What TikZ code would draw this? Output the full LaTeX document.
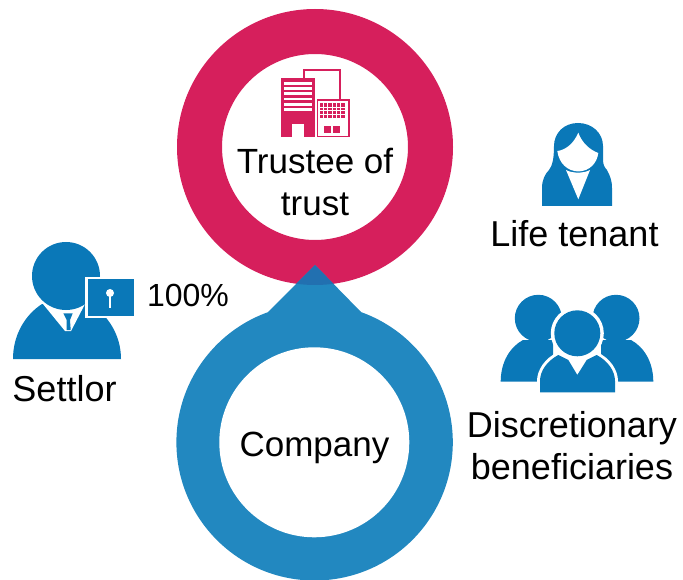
\documentclass[tikz,border=0pt]{standalone}
\usepackage{fontspec}
\setmainfont{Liberation Sans}
\definecolor{ringred}{HTML}{D61F5C}
\definecolor{ringblue}{HTML}{2288C0}
\definecolor{overlapblue}{HTML}{2270B0}
\definecolor{iconblue}{HTML}{0A78B8}
\begin{document}
\begin{tikzpicture}[x=1pt,y=-1pt,
                    label node/.style={font=\fontsize{36}{40}\selectfont,text=black,inner sep=0pt,align=center},
                    thin line/.style={draw=ringred,line width=1.5pt}]
\path[use as bounding box,clip] (0,0) rectangle (683,580);

% rings
\fill[ringred,even odd rule] (315,147) circle (138) (315,147) circle (93);
\fill[ringblue] (314.6,442.3) circle (138.2);
\fill[ringblue] (315,265) -- (361,312) -- (268,312) -- cycle;
\fill[white] (314.3,442.3) circle (95);
\begin{scope}
  \clip (315,147) circle (138);
  \fill[overlapblue] (315,265) -- (361,312) -- (268,312) -- cycle;
\end{scope}

% building
\fill[ringred] (280.7,78.3) rectangle (315,137.3);
\foreach \y in {82.3,87.4,92.5,97.7,102.8,107.9}
  \fill[white] (284.3,\y) rectangle (311.7,\y+2.8);
\fill[white] (292.3,124) rectangle (304,137.3);
\draw[thin line] (304,78.3) -- (304,70) -- (340,70) -- (340,99.3);
\draw[thin line] (317.3,136.7) -- (349,136.7) -- (349,100) -- (317.3,100) -- cycle;
\fill[ringred] (319.5,103.3) rectangle (345,118.3);
\foreach \x in {323.5,327.7,331.9,336.1,340.3}
  \draw[white,line width=.7pt] (\x,103.3) -- (\x,118.3);
\foreach \y in {107,110.8,114.6}
  \draw[white,line width=.7pt] (319.5,\y) -- (345,\y);
\fill[ringred] (324.3,126) rectangle (330.7,133.3);
\fill[ringred] (333.3,126) rectangle (340,133.3);

% settlor
\fill[iconblue] (13,359) .. controls (13,335) and (25,315) .. (42,304) -- (90,304)
  .. controls (108,315) and (121,335) .. (121,359) -- cycle;
\fill[white] (43,304) -- (65,331) -- (71,331) -- (85,304) -- cycle;
\fill[iconblue] (63.3,313.3) -- (72.7,313.3) -- (70,320) -- (70.7,330) -- (66.7,330) -- (66.7,320) -- cycle;
\fill[iconblue] (66,276) circle (34);
\fill[white] (85,277) rectangle (135,318);
\fill[iconblue] (87.5,279.5) rectangle (134,316);
\fill[white] (110,293) circle (4);
\draw[white,line width=2.2pt] (110,293) -- (110,308);

% life tenant
\fill[iconblue] (578,123) .. controls (592,123) and (603,133) .. (603,146)
  -- (603,160) .. controls (603,165) and (605,168) .. (607,170)
  .. controls (610,176) and (612,180) .. (612,188) -- (612,206) -- (542,206) -- (542,188)
  .. controls (542,180) and (545,174) .. (549,170)
  .. controls (552,166) and (554,160) .. (554,146)
  .. controls (554,133) and (564,123) .. (578,123) -- cycle;
\fill[white] (578.3,132.7) .. controls (574,143) and (566,150) .. (557.3,151)
  .. controls (559,163) and (567,171) .. (578.3,171.5)
  .. controls (590,171) and (597,163) .. (598.3,153)
  .. controls (590,150) and (582,143) .. (578.3,132.7) -- cycle;
\fill[white] (566,170) .. controls (572,173.5) and (584,173.5) .. (590,170) -- (578.3,199.3) -- cycle;

% beneficiaries
\fill[iconblue] (538.3,318.3) circle (23.5);
\fill[iconblue] (616,318.3) circle (23.5);
\fill[iconblue] (500.7,381.7) .. controls (500.7,362) and (510,347) .. (523,340) -- (553,340) -- (553,381.7) -- cycle;
\fill[iconblue] (653.3,381.7) .. controls (653.3,362) and (644,347) .. (631,340) -- (601,340) -- (601,381.7) -- cycle;
\fill[white] (537,394) -- (537,381) .. controls (537,370) and (545,358) .. (558,352)
  -- (597,352) .. controls (610,358) and (618,370) .. (618,381) -- (618,394) -- cycle;
\fill[white] (577.3,333.3) circle (26.5);
\fill[iconblue] (577.3,333.3) circle (23);
\fill[iconblue] (540,392.3) -- (540,381) .. controls (540,371) and (547,361) .. (558.3,355)
  -- (568.3,360) -- (577.3,375) -- (586.7,360) -- (596.7,355)
  .. controls (608,361) and (615,371) .. (615,381) -- (615,392.3) -- cycle;

% labels
\node[label node,font=\fontsize{35}{40}\selectfont] (trustee) at (315,182) {Trustee of\\[2pt]trust};
\node[label node,font=\fontsize{35}{40}\selectfont] (company) at (314.5,448) {Company};
\node[label node,font=\fontsize{32}{38}\selectfont] (percent) at (188,295) {100\%};
\node[label node] (settlor) at (64.5,389) {Settlor};
\node[label node] (tenant) at (574.5,234) {Life tenant};
\node[label node] (benef) at (572,446) {Discretionary\\[2pt]beneficiaries};
\end{tikzpicture}
\end{document}
